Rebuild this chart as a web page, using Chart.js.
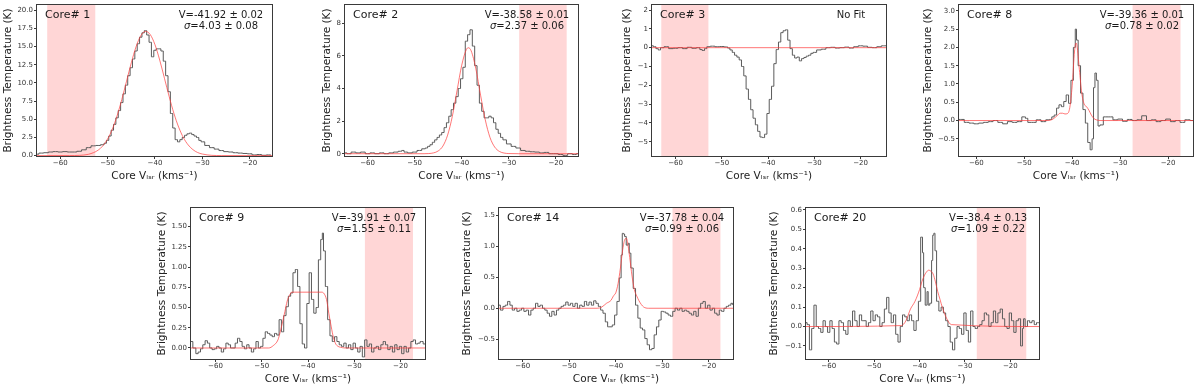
<!DOCTYPE html>
<html>
<head>
<meta charset="utf-8">
<script src="https://cdn.jsdelivr.net/npm/chart.js@4.4.1/dist/chart.umd.min.js"></script>
<style>
  html, body { margin: 0; padding: 0; background: #fff; }
  body { width: 1200px; height: 384px; position: relative; overflow: hidden; }
  .box { position: absolute; overflow: hidden; }
  .box canvas { display: block; }
</style>
</head>
<body>
<script>
// ---- data ----
const coreNames = ['Core# 1', 'Core# 2', 'Core# 3', 'Core# 8', 'Core# 9', 'Core# 14', 'Core# 20'];
const fitText = [
    ['V=-41.92 ± 0.02', 'σ=4.03 ± 0.08'],
    ['V=-38.58 ± 0.01', 'σ=2.37 ± 0.06'],
    null,
    ['V=-39.36 ± 0.01', 'σ=0.78 ± 0.02'],
    ['V=-39.91 ± 0.07', 'σ=1.55 ± 0.11'],
    ['V=-37.78 ± 0.04', 'σ=0.99 ± 0.06'],
    ['V=-38.4 ± 0.13', 'σ=1.09 ± 0.22']
];
const xTicks = [-60, -50, -40, -30, -20];
const xRanges = [[-64.9, -15.3], [-64.8, -15.3], [-65.1, -14.5], [-63.6, -14.8], [-65.3, -14.7], [-65.1, -14.8], [-65.0, -13.7]];
const yRanges = [[-0.05, 20.73], [-0.14, 9.12], [-5.76, 2.27], [-0.97, 3.16], [-0.136, 1.73], [-0.82, 1.62], [-0.167, 0.61]];
const yTicks = [
    [0, 2.5, 5, 7.5, 10, 12.5, 15, 17.5, 20],
    [0, 2, 4, 6, 8],
    [-5, -4, -3, -2, -1, 0, 1, 2],
    [-0.5, 0, 0.5, 1, 1.5, 2, 2.5, 3],
    [0, 0.25, 0.5, 0.75, 1, 1.25, 1.5],
    [-0.5, 0, 0.5, 1, 1.5],
    [-0.1, 0, 0.1, 0.2, 0.3, 0.4, 0.5, 0.6]
];
const yDecimals = [1, 0, 0, 1, 2, 1, 1];
const shades = [[-62.75, -52.6], [-27.8, -17.7], [-63.1, -52.9], [-27.4, -17.4], [-27.7, -17.3], [-27.8, -17.5], [-27.4, -16.5]];

// Core# 1
const v1 = [-65,-64,-63,-62,-61,-60,-59,-58,-57,-56,-55,-54,-53,-52,-51,-50.5,-50,-49.5,-49,-48.5,-48,-47.5,-47,-46.5,-46,-45.5,-45,-44.5,-44,-43.5,-43,-42.5,-42,-41.5,-41,-40.5,-40,-39.5,-39,-38.5,-38,-37.5,-37,-36.5,-36,-35.5,-35,-34.5,-34,-33.5,-33,-32.5,-32,-31.5,-31,-30.5,-30,-29,-28,-27,-26,-25,-24,-23,-22,-21,-20,-19,-18,-17,-16,-15.5];
const t1 = [0.2,0.35,0.4,0.5,0.55,0.5,0.55,0.5,0.5,0.6,0.8,1.1,1.35,1.4,1.5,1.7,2.1,2.7,3.5,4.3,5.2,6.2,7.3,8.5,9.7,11.0,12.1,13.3,14.4,15.4,16.3,16.9,17.2,16.6,15.6,13.6,14.5,14.7,14.7,14.4,13.0,11.0,8.8,5.8,3.8,2.2,1.9,2.2,2.5,2.8,3.0,3.1,2.9,2.7,2.5,2.1,1.9,1.4,1.1,0.9,0.7,0.55,0.5,0.4,0.35,0.3,0.25,0.1,0.15,0.05,0.1,0.08];
const fv1 = [-64.9,-58,-56,-54,-52,-51,-50,-49,-48,-47,-46,-45,-44,-43,-42,-41,-40,-39,-38,-37,-36,-35,-34,-33,-32,-31,-30,-28,-26,-15.3];
const ft1 = [0,0.01,0.04,0.19,0.75,1.35,2.29,3.65,5.48,7.73,10.24,12.77,14.97,16.5,17.1,16.66,15.27,13.15,10.65,8.12,5.81,3.92,2.48,1.48,0.83,0.43,0.22,0.04,0.01,0];

// Core# 2
const v2 = [-64.8,-64,-63,-62,-61,-60,-59,-58,-57,-56,-55,-54,-53,-52.5,-52,-51,-50,-49,-48,-47.5,-47,-46.5,-46,-45.5,-45,-44.5,-44,-43.5,-43,-42.5,-42,-41.5,-41,-40.5,-40,-39.5,-39,-38.5,-38,-37.5,-37,-36.5,-36,-35.5,-35,-34.5,-34,-33.5,-33,-32.5,-32,-31.5,-31,-30,-29,-28,-27,-26,-25,-24,-23,-22,-21,-20,-19,-18,-17,-16,-15.3];
const t2 = [0.05,0.0,0.1,0.05,0.1,0.0,0.05,0.0,0.05,0.0,0.05,0.1,0.15,0.2,0.1,0.05,0.1,0.2,0.3,0.35,0.45,0.55,0.7,0.85,1.0,1.15,1.3,1.6,1.9,2.3,2.7,3.1,3.5,4.0,4.6,5.3,6.9,7.3,7.6,6.6,5.4,4.2,3.1,2.6,2.2,2.2,2.3,2.2,1.9,1.5,1.25,1.0,0.85,0.6,0.45,0.35,0.2,0.15,0.12,0.1,0.05,0.08,0.0,0.0,-0.05,-0.1,0.0,-0.05,0.0];
const fv2 = [-64.8,-48,-47,-46,-45,-44,-43,-42,-41,-40,-39,-38.58,-38,-37,-36,-35,-34,-33,-32,-31,-30,-28,-15.3];
const ft2 = [0,0.0,0.01,0.05,0.17,0.47,1.14,2.29,3.86,5.43,6.4,6.5,6.31,5.21,3.59,2.08,1.0,0.41,0.14,0.04,0.01,0,0];

// Core# 3 (no fit)
const v3 = [-65.1,-64.5,-64,-63.5,-63,-62,-61,-60,-59,-58,-57,-56,-55,-54.5,-54,-53.5,-53,-52,-51,-50,-49,-48.5,-48,-47.5,-47,-46.5,-46,-45.5,-45,-44.5,-44,-43.5,-43,-42.5,-42,-41.5,-41,-40.5,-40,-39.5,-39,-38.5,-38,-37.5,-37,-36.5,-36,-35.5,-35,-34.5,-34,-33.5,-33,-32.5,-32,-31.5,-31,-30.5,-30,-29,-28,-27,-26,-25,-24,-23,-22,-21,-20,-19,-18,-17,-16,-15,-14.5];
const t3 = [0.1,0.05,-0.05,-0.12,0.0,0.05,-0.05,-0.03,0.0,-0.05,0.02,-0.03,0.0,-0.1,-0.15,-0.05,0.05,0.08,0.05,0.06,0.04,-0.02,-0.12,-0.25,-0.4,-0.5,-0.65,-1.0,-1.5,-2.2,-2.75,-3.3,-3.75,-4.1,-4.45,-4.75,-4.78,-4.6,-3.5,-2.75,-2.05,-0.85,-0.1,0.3,0.8,0.9,0.95,0.4,-0.05,-0.4,-0.55,-0.5,-0.7,-0.58,-0.52,-0.45,-0.4,-0.3,-0.25,-0.12,-0.08,0.0,0.02,-0.02,0.0,0.03,-0.02,0.05,0.1,0.08,0.02,0.0,0.05,0.1,0.1];
const fv3 = [-65.1, -14.5];
const ft3 = [0, 0];

// Core# 8
const v4 = [-63.6,-63,-62,-61,-60,-59,-58,-57,-56,-55,-54,-53,-52,-51,-50,-49.5,-49,-48,-47,-46,-45,-44.5,-44,-43.5,-43,-42.5,-42,-41.5,-41,-40.5,-40,-39.5,-39.2,-39,-38.5,-38,-37.5,-37,-36.5,-36,-35.7,-35.4,-35.1,-34.8,-34.4,-34,-33,-32,-31,-30,-29,-28,-27,-26,-25,-24,-23,-22,-21,-20,-19,-18,-17,-16,-14.8];
const t4 = [0.03,0.03,-0.05,-0.07,-0.09,-0.07,-0.05,-0.03,0.0,-0.05,-0.09,-0.03,-0.05,-0.03,0.1,0.06,-0.05,-0.05,0.02,-0.03,0.02,0.03,0.1,0.15,0.34,0.43,0.38,0.52,0.7,0.47,1.1,2.0,2.5,2.2,1.5,0.75,0.3,-0.07,-0.6,-0.8,-0.5,0.9,1.3,1.1,-0.15,-0.12,0.1,0.1,0.02,0.04,-0.02,0.03,0.0,0.02,0.13,0.0,0.02,-0.03,0.0,0.04,-0.03,0.0,-0.05,0.02,0.0];
const fv4 = [-63.6,-45,-44,-43,-42.5,-42,-41.5,-41,-40.5,-40,-39.5,-39.2,-39,-38.5,-38,-37.5,-37,-36.5,-36,-35.5,-35,-34,-14.8];
const ft4 = [0,0,0.04,0.15,0.2,0.2,0.18,0.19,0.35,0.95,1.9,2.12,2.05,1.4,0.75,0.45,0.38,0.28,0.15,0.06,0.02,0,0];

// Core# 9
const v5 = [-65.3,-64.5,-64,-63.5,-63,-62.5,-62,-61.5,-61,-60.5,-60,-59.5,-59,-58.5,-58,-57.5,-57,-56.5,-56,-55.5,-55,-54.5,-54,-53.5,-53,-52.5,-52,-51.5,-51,-50.5,-50,-49.5,-49,-48.5,-48,-47.5,-47,-46.5,-46,-45.5,-45,-44.5,-44,-43.5,-43,-42.5,-42,-41.5,-41,-40.5,-40,-39.5,-39,-38.5,-38,-37.5,-37,-36.8,-36.5,-36,-35.5,-35,-34.5,-34,-33.5,-33,-32.5,-32,-31.5,-31,-30.5,-30,-29.5,-29,-28.5,-28,-27.5,-27,-26.5,-26,-25.5,-25,-24.5,-24,-23.5,-23,-22.5,-22,-21.5,-21,-20.5,-20,-19.5,-19,-18.5,-18,-17.5,-17,-16.5,-16,-15.5,-14.7];
const t5 = [0.08,0.0,-0.07,-0.05,-0.01,0.04,0.09,0.06,0.0,-0.02,-0.01,0.02,0.0,-0.05,-0.01,0.06,0.04,0.0,0.0,0.06,0.12,0.08,0.02,-0.01,0.04,0.0,-0.05,-0.01,0.08,0.0,0.02,0.12,0.2,0.18,0.16,0.14,0.18,0.16,0.35,0.2,0.4,0.51,0.64,0.68,0.93,0.97,0.76,0.3,0.05,0.0,0.55,0.93,0.6,0.43,0.5,1.09,1.34,1.42,1.2,0.76,0.35,0.15,0.08,0.14,0.08,0.04,0.02,0.06,0.0,0.04,-0.02,0.06,0.0,-0.05,0.02,-0.11,0.1,0.02,0.05,-0.05,0.0,0.02,-0.02,0.04,0.08,0.04,-0.02,0.02,-0.05,0.04,-0.02,0.02,-0.07,0.02,-0.05,0.0,0.08,0.1,0.05,0.06,0.08,0.05];
const fv5 = [-65.3,-48.5,-47.5,-46.5,-46,-45.5,-45,-44.5,-44,-43.5,-43,-40,-37,-36.5,-36,-35.5,-35,-34.5,-34,-33.5,-33,-32,-14.7];
const ft5 = [0,0,0.03,0.1,0.2,0.32,0.45,0.58,0.65,0.69,0.69,0.69,0.69,0.67,0.6,0.43,0.27,0.13,0.05,0.02,0.01,0,0];

// Core# 14
const v6 = [-65.1,-64.5,-64,-63.5,-63,-62.5,-62,-61.5,-61,-60.5,-60,-59.5,-59,-58.5,-58,-57.5,-57,-56.5,-56,-55.5,-55,-54.5,-54,-53.5,-53,-52.5,-52,-51.5,-51,-50.5,-50,-49.5,-49,-48.5,-48,-47.5,-47,-46.5,-46,-45.5,-45,-44.5,-44,-43.5,-43,-42.5,-42,-41.5,-41,-40.5,-40,-39.5,-39,-38.7,-38.5,-38.2,-38,-37.5,-37.2,-37,-36.5,-36,-35.5,-35,-34.5,-34,-33.5,-33,-32.5,-32,-31.5,-31,-30.5,-30,-29.5,-29,-28.5,-28,-27.5,-27,-26.5,-26,-25.5,-25,-24.5,-24,-23.5,-23,-22.5,-22,-21.5,-21,-20.5,-20,-19.5,-19,-18.5,-18,-17.5,-17,-16.5,-16,-15.5,-15,-14.8];
const t6 = [0.05,-0.03,0.03,0.05,0.11,0.05,-0.03,0.0,-0.05,-0.03,0.0,-0.05,-0.03,-0.11,-0.03,0.0,0.08,0.03,0.05,0.0,-0.03,-0.08,-0.13,-0.05,-0.11,-0.03,0.0,0.03,0.05,0.1,0.05,0.08,0.03,0.08,0.0,0.05,0.03,0.11,0.05,0.1,0.05,0.12,0.08,0.03,-0.03,-0.08,-0.22,-0.3,-0.3,-0.27,-0.11,0.11,0.49,0.86,1.21,1.2,1.16,1.02,1.05,0.89,0.65,0.32,0.05,-0.16,-0.32,-0.35,-0.49,-0.59,-0.67,-0.65,-0.43,-0.3,-0.19,-0.05,-0.06,-0.08,-0.11,-0.13,-0.05,0.0,-0.03,0.0,-0.05,-0.03,-0.05,-0.08,-0.11,-0.05,-0.13,0.0,0.08,0.11,0.0,0.05,-0.03,0.0,-0.08,-0.11,-0.03,-0.05,0.0,0.03,0.05,0.08,0.06];
const fv6 = [-65.1,-44,-43,-42,-41,-40.5,-40,-39.5,-39,-38.5,-38,-37.7,-37.5,-37,-36.5,-36,-35.5,-35,-34.5,-34,-33,-14.8];
const ft6 = [0,0,0.02,0.08,0.13,0.2,0.25,0.4,0.65,0.95,1.12,1.13,1.08,0.82,0.52,0.3,0.2,0.12,0.06,0.02,0,0];

// Core# 20
const v7 = [-65,-64.5,-64,-63.5,-63,-62.5,-62,-61.5,-61,-60.5,-60,-59.5,-59,-58.5,-58,-57.5,-57,-56.5,-56,-55.5,-55,-54.5,-54,-53.5,-53,-52.5,-52,-51.5,-51,-50.5,-50,-49.5,-49,-48.5,-48,-47.5,-47,-46.5,-46,-45.5,-45,-44.5,-44,-43.5,-43,-42.5,-42,-41.5,-41,-40.5,-40,-39.5,-39.2,-39,-38.5,-38.2,-38,-37.5,-37.2,-37,-36.7,-36.5,-36,-35.5,-35,-34.5,-34,-33.5,-33,-32.5,-32,-31.5,-31,-30.5,-30,-29.5,-29,-28.5,-28,-27.5,-27,-26.5,-26,-25.5,-25,-24.5,-24,-23.5,-23,-22.5,-22,-21.5,-21,-20.5,-20,-19.5,-19,-18.5,-18,-17.5,-17.2,-17,-16.5,-16,-15.5,-15,-14.5,-14,-13.7];
const t7 = [0.02,0.01,-0.12,-0.01,0.11,0.0,-0.01,-0.03,0.03,0.0,-0.03,0.03,-0.01,-0.08,-0.09,0.03,0.02,-0.02,-0.04,0.03,0.0,0.08,0.03,0.0,0.06,0.03,0.03,0.0,0.02,0.08,0.03,0.06,0.05,0.0,0.02,0.09,0.15,0.07,0.02,0.06,-0.04,-0.08,0.0,0.06,0.05,0.03,0.06,0.03,-0.02,0.03,0.13,0.46,0.38,0.2,0.11,0.18,0.11,0.12,0.34,0.47,0.48,0.39,0.13,0.08,0.1,0.07,0.03,0.0,-0.08,-0.12,-0.06,0.0,-0.01,-0.04,0.07,-0.02,-0.08,0.08,0.0,-0.01,0.0,0.01,0.03,0.07,0.06,0.0,0.02,0.08,0.02,0.07,0.09,0.04,0.0,-0.01,0.07,0.03,-0.03,0.03,0.04,-0.1,-0.01,0.04,0.0,0.03,0.02,0.03,0.01,0.02,0.02];
const fv7 = [-65,-44,-43,-42,-41,-40,-39.5,-39,-38.5,-38,-37.5,-37,-36.5,-36,-35.5,-35,-34,-33,-13.7];
const ft7 = [0,0.005,0.03,0.09,0.13,0.19,0.23,0.26,0.28,0.29,0.285,0.27,0.23,0.18,0.14,0.1,0.04,0.01,0];

const specV = [v1, v2, v3, v4, v5, v6, v7];
const specT = [t1, t2, t3, t4, t5, t6, t7];
const fitV = [fv1, fv2, fv3, fv4, fv5, fv6, fv7];
const fitT = [ft1, ft2, ft3, ft4, ft5, ft6, ft7];

// ---- layout: plot rectangle of each panel in page pixels ----
const boxes = [
    { l: 37,  t: 5,   w: 235, h: 151, yoff: 29, clip: 182 },
    { l: 345, t: 5,   w: 233, h: 151, yoff: 18, clip: 182 },
    { l: 652, t: 5,   w: 234, h: 151, yoff: 25, clip: 182 },
    { l: 959, t: 5,   w: 234, h: 151, yoff: 31, clip: 182 },
    { l: 191, t: 208, w: 234, h: 151, yoff: 29, clip: 384 },
    { l: 499, t: 208, w: 234, h: 151, yoff: 32, clip: 384 },
    { l: 806, t: 208, w: 233, h: 151, yoff: 32, clip: 384 }
];

Chart.defaults.font.family = '"DejaVu Sans", sans-serif';
const FRAME = '#3a3a3a';
const PAD_TOP = 6, PAD_RIGHT = 2, X_AXIS_H = 27;

function fmt(v, d) {
    const s = Math.abs(v).toFixed(d);
    return (v < 0 ? '\u2212' : '') + s;
}

const panelDecor = {
    id: 'panelDecor',
    beforeDatasetsDraw(chart, args, opts) {
        const { ctx, chartArea: a, scales: { x } } = chart;
        const x0 = x.getPixelForValue(opts.shade[0]);
        const x1 = x.getPixelForValue(opts.shade[1]);
        ctx.save();
        ctx.fillStyle = 'rgba(255, 0, 0, 0.16)';
        ctx.fillRect(x0, a.top, x1 - x0, a.bottom - a.top);
        ctx.restore();
    },
    afterDatasetsDraw(chart, args, opts) {
        const { ctx, chartArea: a } = chart;
        ctx.save();
        ctx.strokeStyle = FRAME;
        ctx.lineWidth = 1;
        ctx.strokeRect(Math.round(a.left) - 0.5, Math.round(a.top) - 0.5, Math.round(a.right - a.left) + 1, Math.round(a.bottom - a.top) + 1);

        ctx.fillStyle = '#1a1a1a';
        ctx.textBaseline = 'middle';
        ctx.textAlign = 'left';
        ctx.font = '11px "DejaVu Sans"';
        ctx.fillText(opts.name, a.left + 8, a.top + 10.5);

        const cx = a.right - 51;
        if (opts.fit) {
            ctx.textAlign = 'center';
            ctx.font = '10px "DejaVu Sans"';
            ctx.fillText(opts.fit[0], cx, a.top + 10);
            // second line: italic sigma then the rest
            const rest = opts.fit[1].slice(1);
            ctx.font = 'italic 10px "DejaVu Sans"';
            const w1 = ctx.measureText('σ').width;
            ctx.font = '10px "DejaVu Sans"';
            const w2 = ctx.measureText(rest).width;
            const sx = cx - (w1 + w2) / 2;
            ctx.textAlign = 'left';
            ctx.font = 'italic 10px "DejaVu Sans"';
            ctx.fillText('σ', sx, a.top + 21.5);
            ctx.font = '10px "DejaVu Sans"';
            ctx.fillText(rest, sx + w1, a.top + 21.5);
        } else {
            ctx.textAlign = 'center';
            ctx.font = '10px "DejaVu Sans"';
            ctx.fillText('No Fit', a.right - 35, a.top + 10);
        }
        ctx.restore();
    }
};

boxes.forEach((b, i) => {
    const W = Math.round(b.yoff + 6.3);
    const cw = W + b.w + PAD_RIGHT;
    const ch = PAD_TOP + b.h + X_AXIS_H;
    const top = b.t - PAD_TOP;

    const div = document.createElement('div');
    div.className = 'box';
    div.style.left = (b.l - W) + 'px';
    div.style.top = top + 'px';
    div.style.width = cw + 'px';
    div.style.height = Math.min(ch, b.clip - top) + 'px';
    const cv = document.createElement('canvas');
    cv.width = cw;
    cv.height = ch;
    div.appendChild(cv);
    document.body.appendChild(div);

    const spec = specV[i].map((v, k) => ({ x: v, y: specT[i][k] }));
    const fit = fitV[i].map((v, k) => ({ x: v, y: fitT[i][k] }));

    new Chart(cv, {
        type: 'line',
        data: {
            datasets: [
                { data: fit, borderColor: 'rgba(255, 60, 60, 0.7)', borderWidth: 1, pointRadius: 0, cubicInterpolationMode: 'monotone', fill: false },
                { data: spec, borderColor: '#5a5a5a', borderWidth: 1, pointRadius: 0, stepped: 'middle', fill: false }
            ]
        },
        options: {
            responsive: false,
            animation: false,
            events: [],
            devicePixelRatio: 1,
            layout: { padding: { top: PAD_TOP, right: PAD_RIGHT, left: 0, bottom: 0 } },
            scales: {
                x: {
                    type: 'linear',
                    min: xRanges[i][0],
                    max: xRanges[i][1],
                    afterBuildTicks: s => { s.ticks = xTicks.map(v => ({ value: v })); },
                    afterFit: s => { s.height = X_AXIS_H; },
                    grid: { drawOnChartArea: false, drawTicks: true, tickLength: 3, color: FRAME, tickColor: FRAME },
                    border: { display: false },
                    ticks: { padding: 0, autoSkip: false, maxRotation: 0, color: '#333', font: { size: 7 }, callback: v => fmt(v, 0) },
                    title: { display: true, text: 'Core Vₗₛᵣ (kms⁻¹)', color: '#222', font: { size: 10.5 }, padding: 0 }
                },
                y: {
                    type: 'linear',
                    min: yRanges[i][0],
                    max: yRanges[i][1],
                    afterBuildTicks: s => { s.ticks = yTicks[i].map(v => ({ value: v })); },
                    afterFit: s => { s.width = W; },
                    grid: { drawOnChartArea: false, drawTicks: true, tickLength: 3, color: FRAME, tickColor: FRAME },
                    border: { display: false },
                    ticks: { padding: 1, autoSkip: false, color: '#333', font: { size: 7 }, callback: v => fmt(v, yDecimals[i]) },
                    title: { display: true, text: 'Brightness Temperature (K)', color: '#222', font: { size: 10.5 }, padding: 0 }
                }
            },
            plugins: {
                legend: { display: false },
                tooltip: { enabled: false },
                panelDecor: { name: coreNames[i], fit: fitText[i], shade: shades[i] }
            }
        },
        plugins: [panelDecor]
    });
});
</script>
</body>
</html>
